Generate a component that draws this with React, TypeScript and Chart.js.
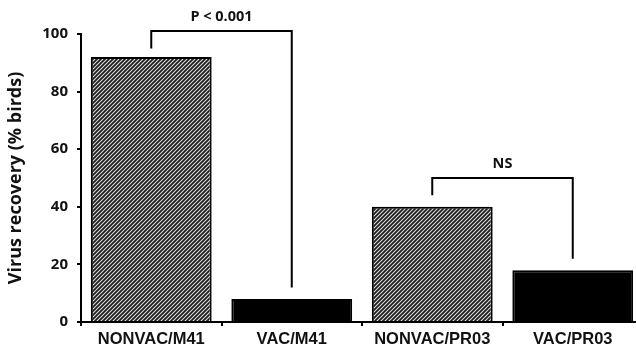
import React, { useEffect, useRef } from 'react';
import { Chart, registerables } from 'chart.js';

Chart.register(...registerables);

const categories = ['NONVAC/M41', 'VAC/M41', 'NONVAC/PR03', 'VAC/PR03'];
const recovery = [92, 8, 40, 18];
const hatched = [true, false, true, false];
const yMin = 0;
const yMax = 100;
const yStep = 20;

// significance brackets (category indices and values on the y scale)
const bracketFrom = [0, 2];
const bracketTo = [1, 3];
const bracketTop = [101, 50];
const bracketLeftEnd = [95, 44];
const bracketRightEnd = [12, 22];
const bracketLabels = ['P < 0.001', 'NS'];

const LABEL_FONT = 'Open Sans';

function makeHatch(): CanvasPattern | string {
  const c = document.createElement('canvas');
  c.width = 4;
  c.height = 4;
  const g = c.getContext('2d');
  if (!g) return '#666';
  g.fillStyle = '#dcdcdc';
  g.fillRect(0, 0, 4, 4);
  g.strokeStyle = '#1a1a1a';
  g.lineWidth = 1.7;
  g.beginPath();
  g.moveTo(-1, 5);
  g.lineTo(5, -1);
  g.moveTo(-1, 1);
  g.lineTo(1, -1);
  g.moveTo(3, 5);
  g.lineTo(5, 3);
  g.stroke();
  const p = g.createPattern(c, 'repeat');
  return p || '#666';
}

const bracketPlugin = {
  id: 'brackets',
  afterDatasetsDraw(chart: any) {
    const { ctx, scales } = chart;
    const x = scales.x;
    const y = scales.y;
    ctx.save();
    ctx.strokeStyle = '#000';
    ctx.lineWidth = 2;
    ctx.fillStyle = '#111';
    ctx.font = `bold 14.5px "${LABEL_FONT}"`;
    ctx.textAlign = 'center';
    ctx.textBaseline = 'middle';
    for (let i = 0; i < bracketFrom.length; i++) {
      const x1 = x.getPixelForValue(bracketFrom[i]);
      const x2 = x.getPixelForValue(bracketTo[i]);
      const yt = y.getPixelForValue(bracketTop[i]);
      ctx.beginPath();
      ctx.moveTo(x1, y.getPixelForValue(bracketLeftEnd[i]));
      ctx.lineTo(x1, yt);
      ctx.lineTo(x2, yt);
      ctx.lineTo(x2, y.getPixelForValue(bracketRightEnd[i]));
      ctx.stroke();
      ctx.fillText(bracketLabels[i], (x1 + x2) / 2, yt - 14);
    }
    ctx.restore();
  },
};

export default function App() {
  const ref = useRef<HTMLCanvasElement | null>(null);

  useEffect(() => {
    if (!ref.current) return;
    const hatch = makeHatch();
    const colors = hatched.map((h) => (h ? hatch : '#000'));
    const chart = new Chart(ref.current, {
      type: 'bar',
      data: {
        labels: categories,
        datasets: [
          {
            data: recovery,
            backgroundColor: colors as any,
            borderColor: '#000',
            borderWidth: 2,
            barPercentage: 0.86,
            categoryPercentage: 1,
          },
        ],
      },
      options: {
        responsive: false,
        animation: false,
        devicePixelRatio: 1,
        layout: { padding: { top: 34, right: 7, left: 0, bottom: 0 } },
        plugins: {
          legend: { display: false },
          tooltip: { enabled: false },
        },
        scales: {
          x: {
            offset: true,
            grid: {
              display: true,
              drawOnChartArea: false,
              drawTicks: true,
              tickLength: 4,
              color: '#000',
              lineWidth: 2,
              offset: true,
            },
            border: { display: true, color: '#000', width: 2 },
            ticks: {
              color: '#111',
              padding: 4,
              font: { family: 'Liberation Sans', weight: 'bold', size: 16.5 },
            },
            afterFit: (s: any) => {
              s.height = 27;
            },
          },
          y: {
            min: yMin,
            max: yMax,
            grid: {
              display: true,
              drawOnChartArea: false,
              drawTicks: true,
              tickLength: 4,
              color: '#000',
              lineWidth: 2,
            },
            border: { display: true, color: '#000', width: 2 },
            ticks: {
              stepSize: yStep,
              color: '#111',
              padding: 9,
              font: { family: LABEL_FONT, weight: 'bold', size: 15 },
            },
            title: {
              display: true,
              text: 'Virus recovery (% birds)',
              color: '#111',
              padding: { top: 5, bottom: 0 },
              font: { family: LABEL_FONT, weight: 'bold', size: 18 },
            },
            afterFit: (s: any) => {
              s.width = 81;
            },
          },
        },
      },
      plugins: [bracketPlugin],
    });
    return () => chart.destroy();
  }, []);

  return (
    <div
      style={{
        position: 'fixed',
        left: 0,
        top: 0,
        width: 636,
        height: 349,
        overflow: 'hidden',
        background: '#fff',
      }}
    >
      <canvas ref={ref} width={650} height={349} style={{ display: 'block' }} />
    </div>
  );
}
